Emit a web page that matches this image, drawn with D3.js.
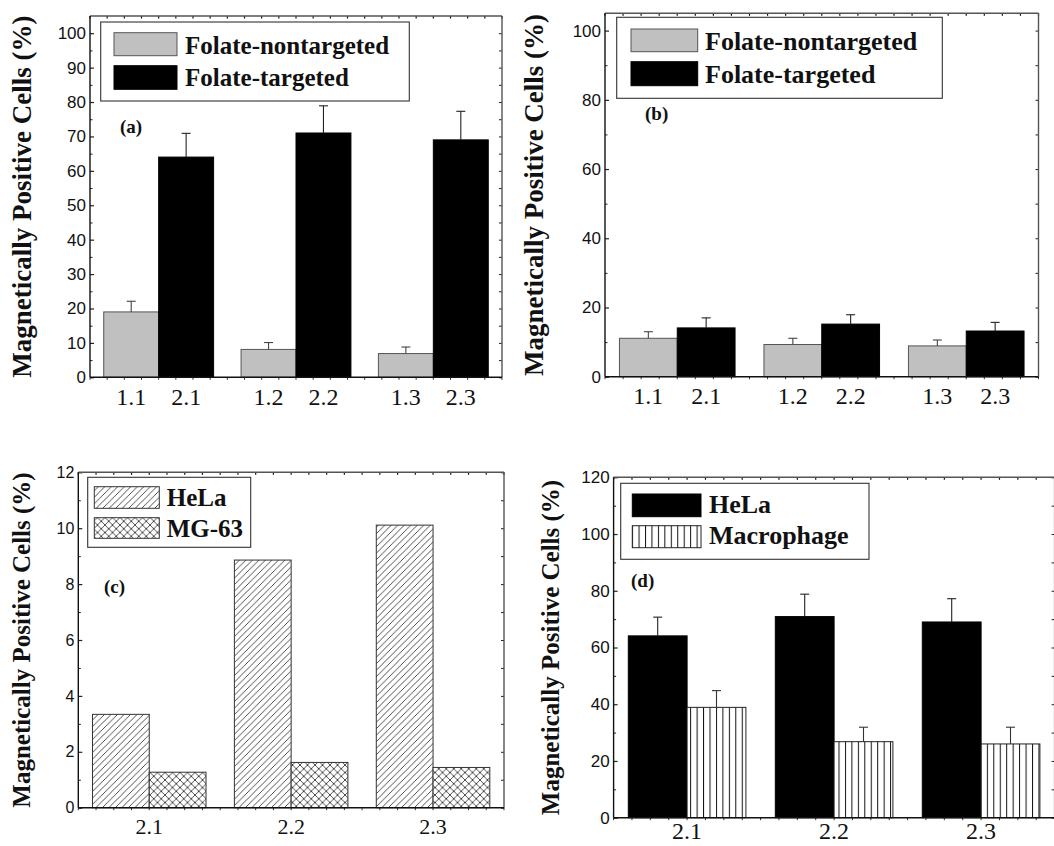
<!DOCTYPE html>
<html>
<head>
<meta charset="utf-8">
<script src="https://cdn.jsdelivr.net/npm/d3@7"></script>
<style>
  html, body { margin: 0; padding: 0; background: #fff; }
  svg { display: block; }
</style>
</head>
<body>
<svg id="fig" width="1054" height="846"></svg>
<script>
// ---- data ----
const groupKeys = ["g1", "g2", "g3"];
const nontargetedLabels = ["1.1", "1.2", "1.3"];
const targetedLabels = ["2.1", "2.2", "2.3"];
const seriesNamesAB = ["Folate-nontargeted", "Folate-targeted"];

// (a) HeLa cells
const aNontargeted = [19.0, 8.1, 6.9];
const aNontargetedErr = [3.1, 2.0, 1.9];
const aTargeted = [64.0, 71.0, 69.0];
const aTargetedErr = [6.9, 7.9, 8.3];

// (b) control cells
const bNontargeted = [11.1, 9.3, 8.9];
const bNontargetedErr = [1.9, 1.8, 1.7];
const bTargeted = [14.1, 15.2, 13.2];
const bTargetedErr = [2.9, 2.7, 2.5];

// (c) HeLa vs MG-63
const cdGroups = ["2.1", "2.2", "2.3"];
const cSeriesNames = ["HeLa", "MG-63"];
const cHeLa = [3.34, 8.86, 10.11];
const cMG63 = [1.27, 1.62, 1.44];

// (d) HeLa vs Macrophage
const dSeriesNames = ["HeLa", "Macrophage"];
const dHeLa = [64.1, 70.9, 69.0];
const dHeLaErr = [6.6, 7.9, 8.2];
const dMacrophage = [38.9, 26.8, 26.0];
const dMacrophageErr = [5.9, 5.1, 5.9];

// axis ticks
const aTicks = d3.range(0, 101, 10), aMinor = d3.range(5, 105, 10);
const bTicks = d3.range(0, 101, 20), bMinor = d3.range(10, 105, 20);
const cTicks = d3.range(0, 13, 2), cMinor = d3.range(1, 12, 2);
const dTicks = d3.range(0, 121, 20), dMinor = d3.range(10, 120, 20);

const yTitle = "Magnetically Positive Cells (%)";
const SERIF = "'Liberation Serif','Times New Roman',Times,serif";
const SANS = "'Liberation Sans',Arial,Helvetica,sans-serif";

const svg = d3.select("#fig");
const defs = svg.append("defs");

// fill patterns
const diag = defs.append("pattern").attr("id", "hatchDiag")
  .attr("patternUnits", "userSpaceOnUse").attr("width", 6.5).attr("height", 6.5);
diag.append("rect").attr("width", 6.5).attr("height", 6.5).attr("fill", "#fff");
diag.append("path").attr("d", "M0,6.5 L6.5,0 M-1,1 L1,-1 M5.5,7.5 L7.5,5.5")
  .attr("stroke", "#222").attr("stroke-width", 0.8);

const cross = defs.append("pattern").attr("id", "hatchCross")
  .attr("patternUnits", "userSpaceOnUse").attr("width", 7.5).attr("height", 7.5);
cross.append("rect").attr("width", 7.5).attr("height", 7.5).attr("fill", "#fff");
cross.append("path").attr("d", "M0,7.5 L7.5,0 M-1,1 L1,-1 M6.5,8.5 L8.5,6.5 M0,0 L7.5,7.5 M-1,6.5 L1,8.5 M6.5,-1 L8.5,1")
  .attr("stroke", "#222").attr("stroke-width", 0.8);

const vert = defs.append("pattern").attr("id", "hatchVert")
  .attr("patternUnits", "userSpaceOnUse").attr("width", 6.45).attr("height", 10);
vert.append("rect").attr("width", 6.45).attr("height", 10).attr("fill", "#fff");
vert.append("line").attr("x1", 0.5).attr("x2", 0.5).attr("y1", 0).attr("y2", 10)
  .attr("stroke", "#111").attr("stroke-width", 1);

function drawPanel(cfg) {
  const g = svg.append("g");
  const [x0, x1] = cfg.xr, [yTop, yBot] = cfg.yr;

  const x = d3.scaleBand().domain(groupKeys).range([x0, x1])
    .paddingInner(0.2).paddingOuter(0.1);
  const y = d3.scaleLinear().domain(cfg.domain).range([yBot, yTop]);
  const bw = x.bandwidth() / 2;
  const step = x.step();

  // bars
  cfg.series.forEach((s, si) => {
    const rows = s.values.map((v, i) => ({ key: groupKeys[i], v, e: s.errors ? s.errors[i] : null }));
    g.append("g").selectAll("rect").data(rows).join("rect")
      .attr("x", d => x(d.key) + si * bw)
      .attr("y", d => y(d.v))
      .attr("width", bw)
      .attr("height", d => y(0) - y(d.v))
      .attr("fill", s.fill)
      .attr("stroke", s.stroke)
      .attr("stroke-width", 1);
    if (s.errors) {
      const eg = g.append("g").attr("stroke", s.errStroke).attr("stroke-width", 1.1);
      eg.selectAll("line.v").data(rows).join("line").attr("class", "v")
        .attr("x1", d => x(d.key) + si * bw + bw / 2)
        .attr("x2", d => x(d.key) + si * bw + bw / 2)
        .attr("y1", d => y(d.v)).attr("y2", d => y(d.v + d.e));
      eg.selectAll("line.c").data(rows).join("line").attr("class", "c")
        .attr("x1", d => x(d.key) + si * bw + bw / 2 - 4.5)
        .attr("x2", d => x(d.key) + si * bw + bw / 2 + 4.5)
        .attr("y1", d => y(d.v + d.e)).attr("y2", d => y(d.v + d.e));
    }
  });

  // left axis with inward ticks
  const yAxis = d3.axisLeft(y).tickValues(cfg.ticks).tickSize(-4).tickPadding(8)
    .tickFormat(d3.format("d"));
  const ya = g.append("g").attr("transform", `translate(${x0},0)`).call(yAxis);
  ya.select(".domain").remove();
  ya.selectAll("line").attr("stroke", "#222").attr("stroke-width", 1.2);
  ya.selectAll("text").attr("font-family", SANS).attr("font-size", cfg.tickFont)
    .attr("fill", "#111").attr("x", -4);
  const yMin = d3.axisLeft(y).tickValues(cfg.minor).tickSize(-2.5).tickFormat("");
  const ym = g.append("g").attr("transform", `translate(${x0},0)`).call(yMin);
  ym.select(".domain").remove();
  ym.selectAll("line").attr("stroke", "#222");

  // right frame ticks (inward)
  const yR = d3.axisRight(y).tickValues(cfg.ticks.concat(cfg.minor)).tickSize(-3).tickFormat("");
  const yr = g.append("g").attr("transform", `translate(${x1},0)`).call(yR);
  yr.select(".domain").remove();
  yr.selectAll("line").attr("stroke", "#222");

  // top/bottom frame ticks
  const tickXs = d3.range(0, 24 + 1).map(i => x0 + i * step / 8);
  g.append("g").selectAll("line").data(tickXs).join("line")
    .attr("x1", d => d).attr("x2", d => d).attr("y1", yTop).attr("y2", yTop + 2.5)
    .attr("stroke", "#111").attr("stroke-width", 1.2);
  g.append("g").selectAll("line").data(tickXs).join("line")
    .attr("x1", d => d).attr("x2", d => d).attr("y1", yBot).attr("y2", yBot + 2.5)
    .attr("stroke", "#333").attr("stroke-width", 1);

  // frame
  g.append("line").attr("x1", x0).attr("x2", x1).attr("y1", yTop).attr("y2", yTop)
    .attr("stroke", "#555").attr("stroke-width", 1.4);
  g.append("line").attr("x1", x1).attr("x2", x1).attr("y1", yTop).attr("y2", yBot)
    .attr("stroke", "#555").attr("stroke-width", 1.4);
  g.append("line").attr("x1", x0).attr("x2", x0).attr("y1", yTop).attr("y2", yBot)
    .attr("stroke", "#111").attr("stroke-width", 1.4);
  g.append("line").attr("x1", x0).attr("x2", x1).attr("y1", yBot).attr("y2", yBot)
    .attr("stroke", "#111").attr("stroke-width", 1.4);

  // x labels
  const xl = g.append("g").attr("font-family", SERIF).attr("font-size", cfg.xFont)
    .attr("fill", "#111").attr("text-anchor", "middle");
  if (cfg.barLabels) {
    cfg.barLabels.forEach((labs, si) => {
      xl.selectAll(null).data(labs).join("text")
        .attr("x", (d, i) => x(groupKeys[i]) + si * bw + bw / 2)
        .attr("y", cfg.xBase).text(d => d);
    });
  } else {
    xl.selectAll(null).data(cfg.groupLabels).join("text")
      .attr("x", (d, i) => x(groupKeys[i]) + x.bandwidth() / 2)
      .attr("y", cfg.xBase).text(d => d);
  }

  // y title
  g.append("text")
    .attr("transform", `translate(${cfg.titleX},${(yTop + yBot) / 2}) rotate(-90)`)
    .attr("text-anchor", "middle").attr("font-family", SERIF).attr("font-weight", "bold")
    .attr("font-size", cfg.titleFont).attr("fill", "#111").text(yTitle);

  // legend
  const L = cfg.legend;
  g.append("rect").attr("x", L.box[0]).attr("y", L.box[1])
    .attr("width", L.box[2] - L.box[0]).attr("height", L.box[3] - L.box[1])
    .attr("fill", "#fff").attr("stroke", "#333").attr("stroke-width", 1.1);
  cfg.series.forEach((s, si) => {
    const r = L.rows[si];
    g.append("rect").attr("x", L.sx).attr("y", r[0]).attr("width", L.sw).attr("height", r[1])
      .attr("fill", s.fill).attr("stroke", s.stroke).attr("stroke-width", 1);
    g.append("text").attr("x", L.tx).attr("y", r[2]).attr("font-family", SERIF)
      .attr("font-weight", "bold").attr("font-size", L.font).attr("fill", "#111").text(s.name);
  });

  // panel tag
  g.append("text").attr("x", cfg.tag[0]).attr("y", cfg.tag[1]).attr("font-family", SERIF)
    .attr("font-weight", "bold").attr("font-size", 19).attr("fill", "#111").text(cfg.tag[2]);
}

// (a)
drawPanel({
  xr: [90, 502], yr: [16, 377.3], domain: [0, 105],
  ticks: aTicks, minor: aMinor, tickFont: 17, xFont: 24, titleFont: 27, titleX: 31,
  xBase: 405,
  barLabels: [nontargetedLabels, targetedLabels],
  series: [
    { name: seriesNamesAB[0], values: aNontargeted, errors: aNontargetedErr, fill: "#c0c0c0", stroke: "#555", errStroke: "#444" },
    { name: seriesNamesAB[1], values: aTargeted, errors: aTargetedErr, fill: "#000", stroke: "#000", errStroke: "#222" }
  ],
  legend: { box: [100.7, 22, 409.3, 101], sx: 114, sw: 63, tx: 185, font: 25,
    rows: [[32.7, 23, 53.5], [65.7, 23.6, 86]] },
  tag: [120, 133, "(a)"]
});

// (b)
drawPanel({
  xr: [605, 1038.5], yr: [13.3, 376.7], domain: [0, 105],
  ticks: bTicks, minor: bMinor, tickFont: 17, xFont: 24, titleFont: 27, titleX: 543,
  xBase: 403.5,
  barLabels: [nontargetedLabels, targetedLabels],
  series: [
    { name: seriesNamesAB[0], values: bNontargeted, errors: bNontargetedErr, fill: "#c0c0c0", stroke: "#555", errStroke: "#444" },
    { name: seriesNamesAB[1], values: bTargeted, errors: bTargetedErr, fill: "#000", stroke: "#000", errStroke: "#222" }
  ],
  legend: { box: [616.7, 17.3, 942.3, 98.3], sx: 631, sw: 66.7, tx: 705, font: 26,
    rows: [[29, 22.7, 49.5], [61.7, 24, 82.7]] },
  tag: [645, 120, "(b)"]
});

// (c)
drawPanel({
  xr: [78.3, 504], yr: [472.3, 807.7], domain: [0, 12],
  ticks: cTicks, minor: cMinor, tickFont: 16, xFont: 22, titleFont: 25, titleX: 30,
  xBase: 833.5,
  groupLabels: cdGroups,
  series: [
    { name: cSeriesNames[0], values: cHeLa, fill: "url(#hatchDiag)", stroke: "#333" },
    { name: cSeriesNames[1], values: cMG63, fill: "url(#hatchCross)", stroke: "#333" }
  ],
  legend: { box: [87.7, 477.3, 250.7, 547.3], sx: 94.3, sw: 65, tx: 166.7, font: 25,
    rows: [[486.7, 21.6, 506], [517.7, 20.6, 536.7]] },
  tag: [104, 593, "(c)"]
});

// (d)
drawPanel({
  xr: [613.6, 1054.6], yr: [477.3, 817.7], domain: [0, 120],
  ticks: dTicks, minor: dMinor, tickFont: 17, xFont: 24, titleFont: 25, titleX: 559,
  xBase: 839,
  groupLabels: cdGroups,
  series: [
    { name: dSeriesNames[0], values: dHeLa, errors: dHeLaErr, fill: "#000", stroke: "#000", errStroke: "#222" },
    { name: dSeriesNames[1], values: dMacrophage, errors: dMacrophageErr, fill: "url(#hatchVert)", stroke: "#222", errStroke: "#333" }
  ],
  legend: { box: [620.7, 483.3, 869, 559.3], sx: 632.3, sw: 68.7, tx: 709, font: 26,
    rows: [[494, 22.7, 513.3], [525.7, 22, 544]] },
  tag: [631, 586.7, "(d)"]
});
</script>
</body>
</html>
